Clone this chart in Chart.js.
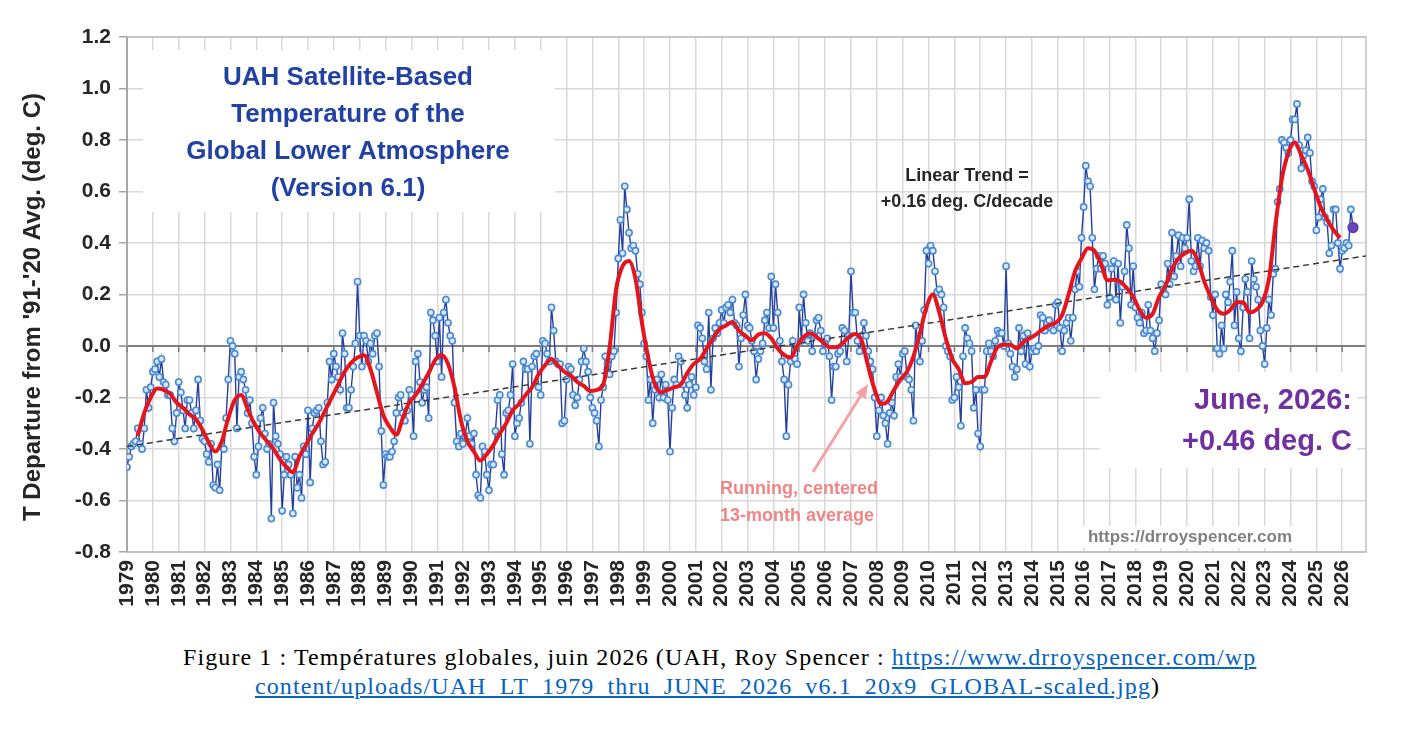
<!DOCTYPE html>
<html>
<head>
<meta charset="utf-8">
<script src="https://cdn.jsdelivr.net/npm/chart.js@4.4.1/dist/chart.umd.min.js"></script>
<style>
  body { margin: 0; background: #fff; width: 1414px; height: 752px; overflow: hidden; position: relative; }
  #wrap { position: absolute; left: 0; top: 0; width: 1414px; height: 620px; }
  .cap { position: absolute; font-family: "Liberation Serif", serif; font-size: 24px; line-height: 28px; letter-spacing: 1.1px; color: #000; white-space: nowrap; }
  .lnk { color: #0563c1; text-decoration: underline; }
</style>
</head>
<body>
<div id="wrap"><canvas id="myChart"></canvas></div>
<div class="cap" style="left:183px; top:643px;">Figure 1 : Températures globales, juin 2026 (UAH, Roy Spencer : <span class="lnk">https://www.drroyspencer.com/wp</span></div>
<div class="cap" style="left:255px; top:672px;"><span class="lnk">content/uploads/UAH_LT_1979_thru_JUNE_2026_v6.1_20x9_GLOBAL-scaled.jpg</span>)</div>
<script>
// monthly anomalies (deg C vs 1991-2020), one row per year
const uah1979to1988 = [
    -0.47, -0.43, -0.39, -0.38, -0.37, -0.32, -0.38, -0.40, -0.32, -0.17, -0.24, -0.16,
    -0.10, -0.09, -0.06, -0.12, -0.05, -0.14, -0.15, -0.19, -0.19, -0.32, -0.37, -0.26,
    -0.14, -0.18, -0.25, -0.32, -0.21, -0.21, -0.26, -0.32, -0.25, -0.13, -0.29, -0.36,
    -0.37, -0.42, -0.45, -0.38, -0.54, -0.55, -0.46, -0.56, -0.39, -0.40, -0.28, -0.13,
    0.02, 0.00, -0.03, -0.32, -0.12, -0.10, -0.13, -0.17, -0.26, -0.21, -0.30, -0.43,
    -0.50, -0.39, -0.28, -0.24, -0.34, -0.40, -0.38, -0.67, -0.22, -0.35, -0.38, -0.42,
    -0.64, -0.50, -0.43, -0.46, -0.50, -0.65, -0.43, -0.55, -0.50, -0.59, -0.39, -0.42,
    -0.25, -0.53, -0.32, -0.26, -0.25, -0.24, -0.37, -0.46, -0.45, -0.22, -0.06, -0.13,
    -0.03, -0.08, -0.12, -0.17, 0.05, -0.03, -0.24, -0.24, -0.17, -0.08, 0.01, 0.25,
    0.04, -0.08, 0.04, 0.02, -0.06, 0.01, -0.03, 0.04, 0.05, -0.08, -0.33, -0.54
];
const uah1989to1998 = [
    -0.42, -0.43, -0.43, -0.41, -0.37, -0.26, -0.20, -0.19, -0.26, -0.29, -0.25, -0.17,
    -0.19, -0.35, -0.06, -0.03, -0.14, -0.22, -0.17, -0.16, -0.28, 0.13, 0.10, 0.04,
    -0.06, 0.11, -0.12, 0.13, 0.18, 0.09, 0.04, 0.02, -0.22, -0.37, -0.39, -0.34,
    -0.38, -0.35, -0.28, -0.35, -0.38, -0.34, -0.50, -0.58, -0.59, -0.39, -0.41, -0.50,
    -0.56, -0.46, -0.46, -0.33, -0.21, -0.19, -0.42, -0.50, -0.26, -0.25, -0.19, -0.07,
    -0.35, -0.30, -0.28, -0.22, -0.06, -0.09, -0.09, -0.38, -0.08, -0.04, -0.03, -0.16,
    -0.19, 0.02, 0.01, -0.03, -0.06, 0.15, 0.06, -0.06, -0.07, -0.07, -0.30, -0.29,
    -0.13, -0.08, -0.09, -0.19, -0.23, -0.20, -0.13, -0.06, -0.01, -0.06, -0.10, -0.20,
    -0.24, -0.26, -0.29, -0.39, -0.21, -0.16, -0.04, -0.07, -0.11, -0.04, -0.02, 0.13,
    0.34, 0.49, 0.36, 0.62, 0.53, 0.44, 0.38, 0.39, 0.37, 0.28, 0.24, 0.13
];
const uah1999to2008 = [
    0.01, -0.04, -0.21, -0.13, -0.30, -0.17, -0.13, -0.20, -0.11, -0.20, -0.15, -0.21,
    -0.41, -0.24, -0.13, -0.15, -0.04, -0.06, -0.15, -0.19, -0.24, -0.15, -0.12, -0.19,
    -0.16, 0.08, 0.07, 0.03, -0.06, -0.09, 0.13, -0.17, 0.03, 0.07, 0.05, 0.09,
    0.14, 0.09, 0.15, 0.16, 0.13, 0.18, 0.09, 0.08, -0.08, 0.03, 0.12, 0.20,
    0.08, 0.07, 0.02, -0.02, -0.13, -0.05, -0.02, 0.01, 0.10, 0.13, 0.07, 0.27,
    0.07, 0.24, 0.13, 0.02, -0.06, -0.13, -0.35, -0.15, -0.06, 0.02, -0.05, -0.07,
    0.15, 0.02, 0.20, 0.09, 0.02, 0.05, -0.02, 0.04, 0.10, 0.11, 0.06, -0.02,
    0.01, 0.03, -0.04, -0.21, -0.08, -0.08, -0.03, -0.02, 0.07, 0.06, -0.06, 0.04,
    0.29, 0.13, 0.13, 0.02, -0.02, 0.04, 0.09, 0.04, -0.02, -0.06, -0.09, -0.20,
    -0.35, -0.25, -0.20, -0.27, -0.30, -0.38, -0.26, -0.22, -0.27, -0.12, -0.07, -0.12
];
const uah2009to2018 = [
    -0.03, -0.02, -0.12, -0.13, -0.17, -0.29, 0.08, 0.01, -0.06, 0.02, 0.14, 0.37,
    0.32, 0.39, 0.37, 0.29, 0.21, 0.22, 0.20, 0.15, 0.00, -0.02, -0.04, -0.21,
    -0.20, -0.12, -0.16, -0.31, -0.04, 0.07, 0.03, 0.01, -0.02, -0.24, -0.17, -0.34,
    -0.39, -0.17, -0.17, -0.02, 0.01, -0.02, -0.04, 0.02, 0.06, 0.05, 0.05, 0.00,
    0.31, 0.01, -0.03, -0.08, -0.12, -0.09, 0.07, -0.02, 0.04, -0.07, 0.05, -0.08,
    -0.02, -0.01, -0.02, 0.00, 0.12, 0.11, 0.06, 0.09, 0.10, 0.07, 0.06, 0.16,
    0.17, 0.07, -0.02, 0.06, 0.09, 0.11, 0.02, 0.11, 0.22, 0.29, 0.23, 0.42,
    0.54, 0.70, 0.64, 0.62, 0.42, 0.22, 0.30, 0.35, 0.30, 0.35, 0.32, 0.16,
    0.19, 0.30, 0.33, 0.18, 0.32, 0.09, 0.23, 0.29, 0.47, 0.38, 0.16, 0.31,
    0.15, 0.11, 0.09, 0.13, 0.05, 0.06, 0.16, 0.06, 0.03, -0.02, 0.05, 0.10
];
const uah2019to2026 = [
    0.24, 0.22, 0.20, 0.32, 0.24, 0.44, 0.27, 0.35, 0.43, 0.31, 0.42, 0.38,
    0.42, 0.57, 0.33, 0.29, 0.31, 0.42, 0.31, 0.41, 0.38, 0.40, 0.37, 0.19,
    0.12, 0.20, -0.01, -0.03, 0.08, -0.01, 0.20, 0.17, 0.25, 0.37, 0.08, 0.21,
    0.03, -0.02, 0.15, 0.26, 0.21, 0.03, 0.33, 0.26, 0.23, 0.18, 0.06, 0.00,
    -0.07, 0.07, 0.18, 0.12, 0.28, 0.30, 0.56, 0.61, 0.80, 0.79, 0.77, 0.75,
    0.80, 0.88, 0.88, 0.94, 0.78, 0.69, 0.74, 0.76, 0.81, 0.75, 0.64, 0.62,
    0.45, 0.50, 0.57, 0.61, 0.50, 0.48, 0.36, 0.39, 0.53, 0.53, 0.40, 0.30,
    0.37, 0.38, 0.40, 0.39, 0.53, 0.46
];

// running centered 13-month average, read every 3 months from Jun 1979 to Dec 2025
const avg13 = [
    -0.35, -0.26, -0.20,
    -0.165, -0.17, -0.185, -0.22,
    -0.24, -0.265, -0.285, -0.325,
    -0.375, -0.41, -0.37, -0.28,
    -0.21, -0.19, -0.245, -0.30,
    -0.34, -0.37, -0.40, -0.44,
    -0.47, -0.49, -0.43, -0.385,
    -0.34, -0.30, -0.25, -0.20,
    -0.15, -0.10, -0.065, -0.045,
    -0.036, -0.09, -0.18, -0.27,
    -0.315, -0.345, -0.28, -0.22,
    -0.19, -0.15, -0.105, -0.055,
    -0.035, -0.07, -0.16, -0.29,
    -0.37, -0.41, -0.445, -0.42,
    -0.385, -0.34, -0.30, -0.25,
    -0.225, -0.19, -0.16, -0.11,
    -0.075, -0.05, -0.075, -0.10,
    -0.115, -0.14, -0.155, -0.175,
    -0.17, -0.15, -0.005, 0.22,
    0.31, 0.33, 0.26, 0.09,
    -0.05, -0.15, -0.18, -0.17,
    -0.16, -0.15, -0.105, -0.07,
    -0.05, -0.01, 0.03, 0.065,
    0.08, 0.093, 0.06, 0.04,
    0.022, 0.045, 0.05, 0.03,
    -0.01, -0.035, -0.045, 0.00,
    0.035, 0.05, 0.035, 0.015,
    -0.005, -0.005, 0.01, 0.035,
    0.047, 0.02, -0.08, -0.17,
    -0.225, -0.215, -0.17, -0.13,
    -0.10, -0.04, 0.05, 0.15,
    0.20, 0.13, 0.03, -0.05,
    -0.09, -0.145, -0.14, -0.12,
    -0.12, -0.06, -0.005, 0.005,
    0.005, -0.01, 0.015, 0.03,
    0.045, 0.065, 0.08, 0.09,
    0.12, 0.20, 0.29, 0.34,
    0.38, 0.37, 0.32, 0.255,
    0.257, 0.25, 0.225, 0.19,
    0.14, 0.11, 0.125, 0.19,
    0.235, 0.30, 0.34, 0.36,
    0.37, 0.33, 0.25, 0.19,
    0.14, 0.125, 0.14, 0.17,
    0.17, 0.13, 0.14, 0.17,
    0.26, 0.47, 0.65, 0.75,
    0.79, 0.74, 0.685, 0.61,
    0.54, 0.49, 0.45, 0.42
];

// linear trend end points (year, value)
const trendYears = [1979, 2026.92];
const trendValues = [-0.39, 0.35];

const yearLabels = [
    1979, 1980, 1981, 1982, 1983, 1984, 1985, 1986, 1987, 1988, 1989, 1990,
    1991, 1992, 1993, 1994, 1995, 1996, 1997, 1998, 1999, 2000, 2001, 2002,
    2003, 2004, 2005, 2006, 2007, 2008, 2009, 2010, 2011, 2012, 2013, 2014,
    2015, 2016, 2017, 2018, 2019, 2020, 2021, 2022, 2023, 2024, 2025, 2026
];
const yTicks = [-0.8, -0.6, -0.4, -0.2, 0.0, 0.2, 0.4, 0.6, 0.8, 1.0, 1.2];

const monthly = [].concat(uah1979to1988, uah1989to1998, uah1999to2008, uah2009to2018, uah2019to2026);
const lastIdx = monthly.length - 1;

function drawLines(ctx, lines, x, y, dy) {
    lines.forEach((t, i) => ctx.fillText(t, x, y + i * dy));
}

const decor = {
    id: 'decor',
    beforeDatasetsDraw(chart) {
        const ctx = chart.ctx;
        const a = chart.chartArea;
        const x = chart.scales.x, y = chart.scales.y;
        ctx.save();
        // plot area border (top, right, bottom)
        ctx.strokeStyle = '#c0c0c0';
        ctx.lineWidth = 1.5;
        ctx.beginPath();
        ctx.moveTo(a.left, a.top); ctx.lineTo(a.right, a.top);
        ctx.lineTo(a.right, a.bottom); ctx.lineTo(a.left, a.bottom);
        ctx.stroke();
        // white boxes behind the text blocks
        ctx.fillStyle = '#ffffff';
        ctx.fillRect(143, 50, 412, 162);
        ctx.fillRect(1100, 372, 257, 96);
        ctx.fillRect(1083, 526, 216, 22);
        // small ticks hanging under the zero line
        const y0 = y.getPixelForValue(0);
        ctx.strokeStyle = '#7f7f7f';
        ctx.lineWidth = 1.5;
        yearLabels.forEach(yr => {
            const px = x.getPixelForValue(yr);
            ctx.beginPath(); ctx.moveTo(px, y0); ctx.lineTo(px, y0 + 6); ctx.stroke();
        });
        ctx.restore();
    },
    afterDraw(chart) {
        const ctx = chart.ctx;
        ctx.save();
        ctx.textBaseline = 'middle';

        // y axis title
        ctx.save();
        ctx.translate(33, 307);
        ctx.rotate(-Math.PI / 2);
        ctx.textAlign = 'center';
        ctx.fillStyle = '#262626';
        ctx.font = 'bold 24px "Liberation Sans"';
        ctx.fillText("T Departure from '91-'20 Avg. (deg. C)", 0, 0);
        ctx.restore();

        ctx.textAlign = 'center';
        ctx.fillStyle = '#2142a3';
        ctx.font = 'bold 26px "Liberation Sans"';
        drawLines(ctx, ['UAH Satellite-Based', 'Temperature of the', 'Global Lower Atmosphere', '(Version 6.1)'], 348, 78, 37);

        ctx.fillStyle = '#262626';
        ctx.font = 'bold 18px "Liberation Sans"';
        drawLines(ctx, ['Linear Trend =', '+0.16 deg. C/decade'], 967, 176, 26);

        ctx.fillStyle = '#808080';
        ctx.font = 'bold 17px "Liberation Sans"';
        ctx.fillText('https://drroyspencer.com', 1190, 537);

        ctx.textAlign = 'right';
        ctx.fillStyle = '#7030a0';
        ctx.font = 'bold 29px "Liberation Sans"';
        drawLines(ctx, ['June, 2026:', '+0.46 deg. C'], 1352, 401, 41);

        ctx.textAlign = 'left';
        ctx.fillStyle = '#ef8585';
        ctx.font = 'bold 18px "Liberation Sans"';
        drawLines(ctx, ['Running, centered', '13-month average'], 720, 489, 27);

        // arrow to the running mean
        const x1 = 813, y1 = 472, x2 = 868, y2 = 384;
        const ang = Math.atan2(y2 - y1, x2 - x1);
        ctx.strokeStyle = '#f3a3a3';
        ctx.fillStyle = '#f3a3a3';
        ctx.lineWidth = 3;
        ctx.beginPath();
        ctx.moveTo(x1, y1);
        ctx.lineTo(x2 - 10 * Math.cos(ang), y2 - 10 * Math.sin(ang));
        ctx.stroke();
        ctx.beginPath();
        ctx.moveTo(x2, y2);
        ctx.lineTo(x2 - 14 * Math.cos(ang) + 6 * Math.sin(ang), y2 - 14 * Math.sin(ang) - 6 * Math.cos(ang));
        ctx.lineTo(x2 - 14 * Math.cos(ang) - 6 * Math.sin(ang), y2 - 14 * Math.sin(ang) + 6 * Math.cos(ang));
        ctx.closePath();
        ctx.fill();
        ctx.restore();
    }
};

function renderChart() {
    Chart.defaults.font.family = '"Liberation Sans", Arial, sans-serif';
    const ctx = document.getElementById('myChart').getContext('2d');
    new Chart(ctx, {
        type: 'line',
        data: {
            datasets: [
                {
                    label: 'Running, centered 13-month average',
                    data: avg13.map((v, i) => ({ x: 1979 + 5 / 12 + i * 0.25, y: v })),
                    borderColor: '#e5151d',
                    borderWidth: 4,
                    pointRadius: 0,
                    cubicInterpolationMode: 'monotone',
                    order: 1
                },
                {
                    label: 'Linear trend',
                    data: trendYears.map((yr, i) => ({ x: yr, y: trendValues[i] })),
                    borderColor: '#3a3a3a',
                    borderWidth: 1.5,
                    borderDash: [6, 4],
                    pointRadius: 0,
                    order: 2
                },
                {
                    label: 'Monthly',
                    data: monthly.map((v, i) => ({ x: 1979 + i / 12, y: v })),
                    borderColor: '#23409e',
                    borderWidth: 1.4,
                    pointRadius: c => c.dataIndex === lastIdx ? 4.8 : 3.1,
                    pointBorderWidth: 1.6,
                    pointBorderColor: c => c.dataIndex === lastIdx ? '#5b3aa8' : '#4a8ad4',
                    pointBackgroundColor: c => c.dataIndex === lastIdx ? '#6a45b8' : '#dce9f7',
                    tension: 0,
                    order: 3
                }
            ]
        },
        options: {
            responsive: true,
            maintainAspectRatio: false,
            animation: false,
            layout: { padding: { left: 0, right: 48, top: 37, bottom: 0 } },
            plugins: { legend: { display: false }, tooltip: { enabled: false } },
            scales: {
                x: {
                    type: 'linear',
                    min: 1979,
                    max: 2026.92,
                    afterBuildTicks: s => { s.ticks = yearLabels.map(v => ({ value: v })); },
                    afterFit: s => { s.height = 68; },
                    grid: { color: '#d9d9d9', lineWidth: 1.5, drawTicks: false },
                    border: { color: '#c0c0c0', width: 1.5 },
                    ticks: {
                        autoSkip: false,
                        minRotation: 90,
                        maxRotation: 90,
                        padding: 8,
                        color: '#262626',
                        font: { size: 21, weight: 'bold' },
                        callback: v => String(v)
                    }
                },
                y: {
                    min: -0.8,
                    max: 1.2,
                    afterBuildTicks: s => { s.ticks = yTicks.map(v => ({ value: v })); },
                    afterFit: s => { s.width = 127; },
                    grid: {
                        color: c => Math.abs(c.tick.value) < 1e-9 ? '#7f7f7f' : '#d9d9d9',
                        lineWidth: c => Math.abs(c.tick.value) < 1e-9 ? 2 : 1.5,
                        tickLength: 8,
                        tickColor: '#a6a6a6'
                    },
                    border: { color: '#a6a6a6', width: 2 },
                    ticks: {
                        padding: 8,
                        color: '#262626',
                        font: { size: 21, weight: 'bold' },
                        callback: v => v.toFixed(1)
                    }
                }
            }
        },
        plugins: [decor]
    });
}

window.onload = renderChart;
</script>
</body>
</html>
